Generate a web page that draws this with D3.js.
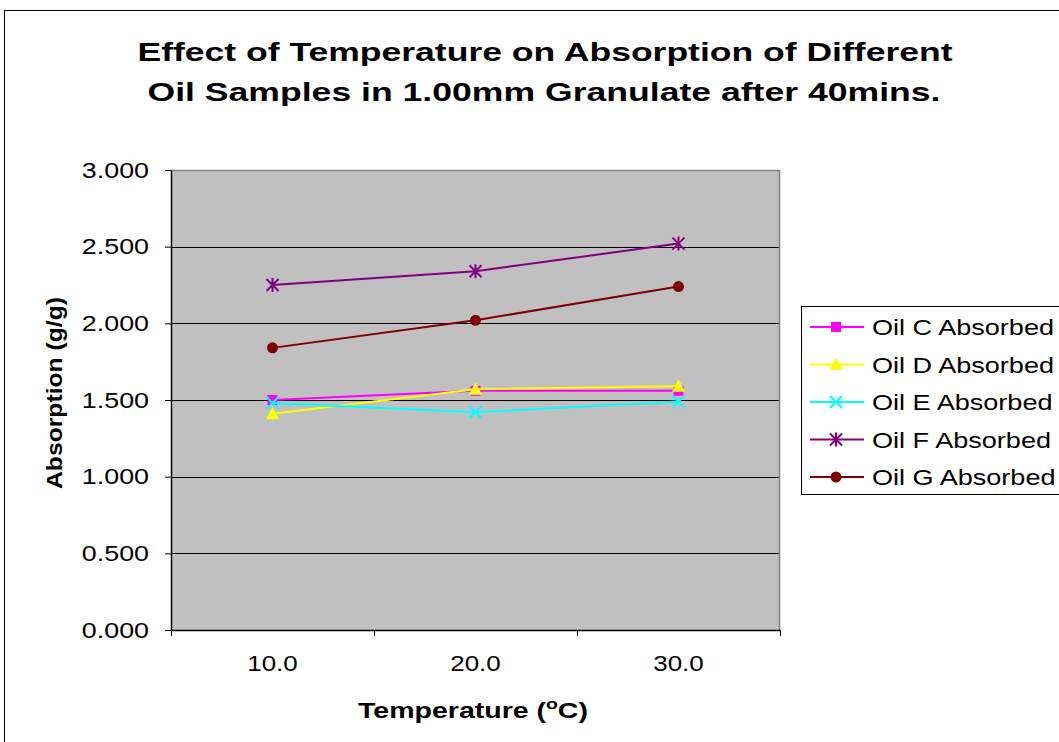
<!DOCTYPE html>
<html>
<head>
<meta charset="utf-8">
<script src="https://cdn.jsdelivr.net/npm/d3@7"></script>
<style>
  body { margin: 0; background: #fff; }
  svg { display: block; font-family: "Liberation Sans", Arial, sans-serif; }
</style>
</head>
<body>
<svg id="chart" width="1059" height="742"></svg>
<script>
// data
const temps = ["10.0", "20.0", "30.0"];
const seriesNames = ["Oil C Absorbed", "Oil D Absorbed", "Oil E Absorbed", "Oil F Absorbed", "Oil G Absorbed"];
const oilC = [1.50, 1.56, 1.56];
const oilD = [1.41, 1.57, 1.59];
const oilE = [1.48, 1.42, 1.49];
const oilF = [2.25, 2.34, 2.52];
const oilG = [1.84, 2.02, 2.24];
const yTicks = [0, 0.5, 1.0, 1.5, 2.0, 2.5, 3.0];

const seriesColors = ["#ff00ff", "#ffff00", "#00ffff", "#800080", "#800000"];
const seriesMarkers = ["square", "triangle", "x", "star", "circle"];
const seriesValues = [oilC, oilD, oilE, oilF, oilG];

const svg = d3.select("#chart");
const plot = {left: 171, top: 170, right: 780, bottom: 630};

// the original picture is stretched sideways, widen text to match
function widen(sel, factor) {
    sel.each(function() {
        const w = this.getComputedTextLength();
        d3.select(this).attr("textLength", w * factor).attr("lengthAdjust", "spacingAndGlyphs");
    });
}

// chart outer border
svg.append("rect")
    .attr("x", 4.5).attr("y", 10.5)
    .attr("width", 1080).attr("height", 760)
    .attr("fill", "none").attr("stroke", "#000").attr("stroke-width", 1);

const x = d3.scaleBand().domain(temps).range([plot.left, plot.right]);
const y = d3.scaleLinear().domain([0, 3]).range([plot.bottom, plot.top]);

// plot background
svg.append("rect")
    .attr("x", plot.left).attr("y", plot.top)
    .attr("width", plot.right - plot.left).attr("height", plot.bottom - plot.top)
    .attr("fill", "#c0c0c0");

// gridlines
svg.append("g")
    .selectAll("line")
    .data(yTicks.filter(d => d > 0 && d < 3))
    .join("line")
    .attr("x1", plot.left).attr("x2", plot.right)
    .attr("y1", d => Math.round(y(d)) + 0.5).attr("y2", d => Math.round(y(d)) + 0.5)
    .attr("stroke", "#000").attr("stroke-width", 1);

// top & right border of plot area
svg.append("path")
    .attr("d", `M${plot.left},${plot.top + 0.5}H${plot.right - 0.5}V${plot.bottom}`)
    .attr("fill", "none").attr("stroke", "#808080").attr("stroke-width", 1.5);

// y axis
const yAxis = svg.append("g")
    .attr("transform", `translate(${plot.left},0)`)
    .call(d3.axisLeft(y).tickValues(yTicks).tickFormat(d3.format(".3f")).tickSizeInner(6).tickSizeOuter(0).tickPadding(16));
yAxis.select(".domain").attr("stroke", "#000").attr("stroke-width", 1.5);
yAxis.selectAll(".tick line").attr("stroke", "#000");
yAxis.selectAll("text").attr("font-size", 22).attr("fill", "#000")
    .attr("font-family", "'Liberation Sans', Arial, sans-serif");
widen(yAxis.selectAll("text"), 1.22);

// x axis - ticks at band boundaries
const xAxis = svg.append("g")
    .attr("transform", `translate(0,${plot.bottom})`)
    .call(d3.axisBottom(x).tickSize(0).tickPadding(25));
xAxis.select(".domain").attr("stroke", "#000").attr("stroke-width", 1.5);
xAxis.selectAll("text").attr("font-size", 22).attr("fill", "#000")
    .attr("font-family", "'Liberation Sans', Arial, sans-serif");
widen(xAxis.selectAll("text"), 1.18);
const bounds = temps.map(t => x(t)).concat([x(temps[temps.length - 1]) + x.bandwidth()]);
xAxis.selectAll(".bound")
    .data(bounds)
    .join("line")
    .attr("class", "bound")
    .attr("x1", d => Math.round(d) + 0.5).attr("x2", d => Math.round(d) + 0.5)
    .attr("y1", 0).attr("y2", 6)
    .attr("stroke", "#000");

// marker drawing
function drawMarker(g, type, color) {
    if (type === "square") {
        g.append("rect").attr("x", -5).attr("y", -5).attr("width", 10).attr("height", 10).attr("fill", color);
    } else if (type === "triangle") {
        g.append("path").attr("d", "M0,-7L6.5,5.5L-6.5,5.5Z").attr("fill", color);
    } else if (type === "x") {
        g.append("path").attr("d", "M-6,-6L6,6M-6,6L6,-6").attr("stroke", color).attr("stroke-width", 2);
    } else if (type === "star") {
        g.append("path").attr("d", "M-6,-6L6,6M-6,6L6,-6M0,-7L0,7").attr("stroke", color).attr("stroke-width", 2);
    } else if (type === "circle") {
        g.append("circle").attr("r", 5.5).attr("fill", color);
    }
}

const line = d3.line()
    .x((d, i) => x(temps[i]) + x.bandwidth() / 2)
    .y(d => y(d));

seriesValues.forEach((vals, k) => {
    const g = svg.append("g");
    g.append("path")
        .attr("d", line(vals))
        .attr("fill", "none")
        .attr("stroke", seriesColors[k])
        .attr("stroke-width", 2);
    vals.forEach((v, i) => {
        const m = g.append("g")
            .attr("transform", `translate(${x(temps[i]) + x.bandwidth() / 2},${y(v)})`);
        drawMarker(m, seriesMarkers[k], seriesColors[k]);
    });
});

// legend
const legend = svg.append("g");
legend.append("rect")
    .attr("x", 801.5).attr("y", 306.5).attr("width", 270).attr("height", 188)
    .attr("fill", "#fff").attr("stroke", "#000");
seriesNames.forEach((name, k) => {
    const ly = 327 + k * 37.5;
    legend.append("line")
        .attr("x1", 810).attr("x2", 864).attr("y1", ly).attr("y2", ly)
        .attr("stroke", seriesColors[k]).attr("stroke-width", 2);
    const m = legend.append("g").attr("transform", `translate(836,${ly})`);
    drawMarker(m, seriesMarkers[k], seriesColors[k]);
    legend.append("text")
        .attr("class", "legend-label")
        .attr("x", 872).attr("y", ly + 8)
        .attr("font-size", 22)
        .text(name);
});
widen(legend.selectAll(".legend-label"), 1.23);

// title
svg.append("text")
    .attr("x", 545).attr("y", 61)
    .attr("text-anchor", "middle")
    .attr("font-weight", "bold")
    .attr("font-size", 25)
    .attr("textLength", 815).attr("lengthAdjust", "spacingAndGlyphs")
    .text("Effect of Temperature on Absorption of Different");
svg.append("text")
    .attr("x", 544).attr("y", 101)
    .attr("text-anchor", "middle")
    .attr("font-weight", "bold")
    .attr("font-size", 25)
    .attr("textLength", 793).attr("lengthAdjust", "spacingAndGlyphs")
    .text("Oil Samples in 1.00mm Granulate after 40mins.");

// axis titles
svg.append("text")
    .attr("transform", `translate(62,393) rotate(-90)`)
    .attr("text-anchor", "middle")
    .attr("font-weight", "bold")
    .attr("font-size", 22)
    .attr("textLength", 192).attr("lengthAdjust", "spacingAndGlyphs")
    .text("Absorption (g/g)");

// x title, stretched as a group around its centre
const xtg = svg.append("g");
const xt = xtg.append("text")
    .attr("x", 0).attr("y", 0)
    .attr("text-anchor", "middle")
    .attr("font-weight", "bold")
    .attr("font-size", 22);
xt.append("tspan").text("Temperature (");
xt.append("tspan").attr("font-size", 15).attr("dy", -9).text("o");
xt.append("tspan").attr("dy", 9).text("C)");
const xtw = xt.node().getBBox().width;
xtg.attr("transform", `translate(473,718) scale(${230 / xtw},1)`);
</script>
</body>
</html>
